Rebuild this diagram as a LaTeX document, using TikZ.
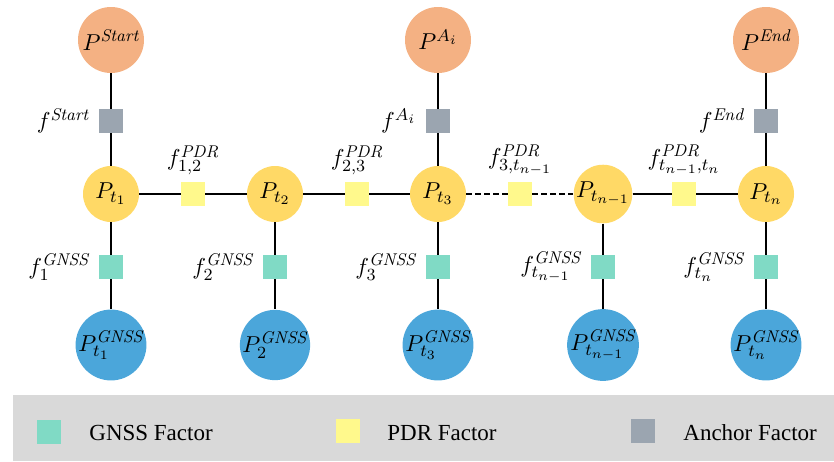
\documentclass[tikz,border=0pt]{standalone}
\usepackage{fix-cm}
\usepackage{fontspec}
\newfontfamily\legendfont{Liberation Serif}
\DeclareMathSizes{11.5}{11.5}{8.5}{6.5}
\definecolor{peach}{HTML}{F4B183}
\definecolor{goldc}{HTML}{FFD966}
\definecolor{skyb}{HTML}{4BA6DA}
\definecolor{gnssc}{HTML}{80DAC5}
\definecolor{pdrc}{HTML}{FFF98C}
\definecolor{anchc}{HTML}{9BA5B0}
\definecolor{legbg}{HTML}{D9D9D9}
\begin{document}
\begin{tikzpicture}[x=0.5pt,y=-0.5pt,font=\fontsize{11.5}{14}\selectfont,
  topc/.style={circle,fill=peach,minimum size=33pt,inner sep=0pt},
  midc/.style={circle,fill=goldc,minimum size=28pt,inner sep=0pt},
  botc/.style={circle,fill=skyb,minimum size=33pt,inner sep=0pt},
  fac/.style={rectangle,minimum size=12pt,inner sep=0pt},
  gnssf/.style={fac,fill=gnssc},
  pdrf/.style={fac,fill=pdrc},
  anchf/.style={fac,fill=anchc},
  link/.style={line width=1.1pt,black},
  dlink/.style={link,dash pattern=on 3pt off 1.5pt},
  lbl/.style={inner sep=0pt},
  legtext/.style={inner sep=0pt,font=\legendfont\fontsize{11.5}{14}\selectfont}]
\useasboundingbox (0,0) rectangle (834,461);
% legend band
\fill[legbg] (13,395) rectangle (834,461);
% top circles
\node[topc] (S) at (111,40) {$P^{\mathit{Start}}$};
\node[topc] (A) at (438,40) {$P^{A_i}$};
\node[topc] (E) at (766,40) {$P^{\mathit{End}}$};
% anchor factors
\node[anchf] (fS) at (111,121) {};
\node[anchf] (fA) at (438,121) {};
\node[anchf] (fE) at (766,121) {};
% middle row
\node[midc] (p1) at (111,194) {$P_{t_1}$};
\node[midc] (p2) at (275,194) {$P_{t_2}$};
\node[midc] (p3) at (438,194) {$P_{t_3}$};
\node[midc] (pm) at (603,194) {$P_{t_{n-1}}$};
\node[midc] (pn) at (766,194) {$P_{t_n}$};
% PDR factors
\node[pdrf] (f12) at (193,194) {};
\node[pdrf] (f23) at (357,194) {};
\node[pdrf] (f3m) at (520,194) {};
\node[pdrf] (fmn) at (684,194) {};
% GNSS factors
\node[gnssf] (g1) at (111,267) {};
\node[gnssf] (g2) at (275,267) {};
\node[gnssf] (g3) at (438,267) {};
\node[gnssf] (gm) at (603,267) {};
\node[gnssf] (gn) at (766,267) {};
% bottom circles
\node[botc] (b1) at (111,345) {$P^{\mathit{GNSS}}_{t_1}$};
\node[botc] (b2) at (275,345) {$P^{\mathit{GNSS}}_{2}$};
\node[botc] (b3) at (438,345) {$P^{\mathit{GNSS}}_{t_3}$};
\node[botc] (bm) at (603,345) {$P^{\mathit{GNSS}}_{t_{n-1}}$};
\node[botc] (bn) at (766,345) {$P^{\mathit{GNSS}}_{t_n}$};
% connectors
\draw[link] (S) -- (fS) -- (p1);
\draw[link] (A) -- (fA) -- (p3);
\draw[link] (E) -- (fE) -- (pn);
\draw[link] (p1) -- (f12) -- (p2) -- (f23) -- (p3);
\draw[dlink] (p3) -- (f3m) -- (pm);
\draw[link] (pm) -- (fmn) -- (pn);
\draw[link] (p1) -- (g1) -- (b1);
\draw[link] (p2) -- (g2) -- (b2);
\draw[link] (p3) -- (g3) -- (b3);
\draw[link] (pm) -- (gm) -- (bm);
\draw[link] (pn) -- (gn) -- (bn);
% anchor labels
\node[lbl,anchor=east] (lS) at ([xshift=-4.5pt]fS.west) {$f^{\mathit{Start}}$};
\node[lbl,anchor=east] (lA) at ([xshift=-4.5pt]fA.west) {$f^{A_i}$};
\node[lbl,anchor=east] (lE) at ([xshift=-4.5pt]fE.west) {$f^{\mathit{End}}$};
% PDR labels
\node[lbl,anchor=south] (l12) at ([yshift=3pt]f12.north) {$f^{\mathit{PDR}}_{1,2}$};
\node[lbl,anchor=south] (l23) at ([yshift=3pt]f23.north) {$f^{\mathit{PDR}}_{2,3}$};
\node[lbl,anchor=south] (l3m) at ([yshift=3pt]f3m.north) {$f^{\mathit{PDR}}_{3,t_{n-1}}$};
\node[lbl,anchor=south] (lmn) at ([yshift=3pt]fmn.north) {$f^{\mathit{PDR}}_{t_{n-1},t_n}$};
% GNSS labels
\node[lbl,anchor=east] (lg1) at ([xshift=-4.5pt]g1.west) {$f^{\mathit{GNSS}}_{1}$};
\node[lbl,anchor=east] (lg2) at ([xshift=-4.5pt]g2.west) {$f^{\mathit{GNSS}}_{2}$};
\node[lbl,anchor=east] (lg3) at ([xshift=-4.5pt]g3.west) {$f^{\mathit{GNSS}}_{3}$};
\node[lbl,anchor=east] (lgm) at ([xshift=-4.5pt]gm.west) {$f^{\mathit{GNSS}}_{t_{n-1}}$};
\node[lbl,anchor=east] (lgn) at ([xshift=-4.5pt]gn.west) {$f^{\mathit{GNSS}}_{t_n}$};
% legend
\node[gnssf] (kg) at (49,432) {};
\node[legtext,anchor=base west] (kgt) at (89,440) {GNSS Factor};
\node[pdrf] (kp) at (348,431) {};
\node[legtext,anchor=base west] (kpt) at (387,440) {PDR Factor};
\node[anchf] (ka) at (643,431) {};
\node[legtext,anchor=base west] (kat) at (683,440) {Anchor Factor};
\end{tikzpicture}
\end{document}
